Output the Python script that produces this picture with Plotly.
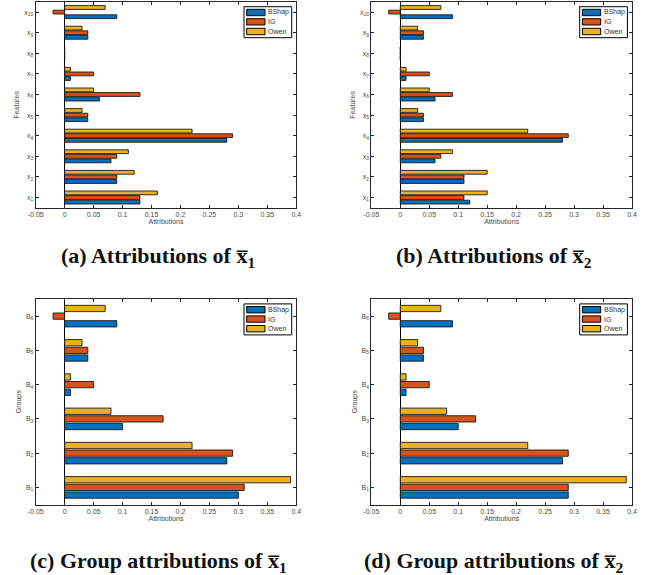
import plotly.graph_objects as go

# ---------------- data ----------------
feature_labels = ["x<sub>1</sub>", "x<sub>2</sub>", "x<sub>3</sub>", "x<sub>4</sub>", "x<sub>5</sub>",
                  "x<sub>6</sub>", "x<sub>7</sub>", "x<sub>8</sub>", "x<sub>9</sub>", "x<sub>10</sub>"]
group_labels = ["B<sub>1</sub>", "B<sub>2</sub>", "B<sub>3</sub>", "B<sub>4</sub>", "B<sub>5</sub>", "B<sub>6</sub>"]
series_names = ["BShap", "IG", "Owen"]

a_bshap = [0.13, 0.09, 0.08, 0.28, 0.04, 0.06, 0.01, 0.0, 0.04, 0.09]
a_ig    = [0.13, 0.09, 0.09, 0.29, 0.04, 0.13, 0.05, 0.0, 0.04, -0.02]
a_owen  = [0.16, 0.12, 0.11, 0.22, 0.03, 0.05, 0.01, 0.0, 0.03, 0.07]

b_bshap = [0.12, 0.11, 0.06, 0.28, 0.04, 0.06, 0.01, 0.0, 0.04, 0.09]
b_ig    = [0.11, 0.11, 0.07, 0.29, 0.04, 0.09, 0.05, 0.0, 0.04, -0.02]
b_owen  = [0.15, 0.15, 0.09, 0.22, 0.03, 0.05, 0.01, 0.0, 0.03, 0.07]

c_bshap = [0.30, 0.28, 0.10, 0.01, 0.04, 0.09]
c_ig    = [0.31, 0.29, 0.17, 0.05, 0.04, -0.02]
c_owen  = [0.39, 0.22, 0.08, 0.01, 0.03, 0.07]

d_bshap = [0.29, 0.28, 0.10, 0.01, 0.04, 0.09]
d_ig    = [0.29, 0.29, 0.13, 0.05, 0.04, -0.02]
d_owen  = [0.39, 0.22, 0.08, 0.01, 0.03, 0.07]

x_tick_vals = [-0.05, 0, 0.05, 0.1, 0.15, 0.2, 0.25, 0.3, 0.35, 0.4]
x_tick_text = ["-0.05", "0", "0.05", "0.1", "0.15", "0.2", "0.25", "0.3", "0.35", "0.4"]

captions = ["(a) Attributions of x\u0305<sub>1</sub>",
            "(b) Attributions of x\u0305<sub>2</sub>",
            "(c) Group attributions of x\u0305<sub>1</sub>",
            "(d) Group attributions of x\u0305<sub>2</sub>"]

# ---------------- style ----------------
colors = ["#0072BD", "#D95319", "#EDB120"]
W, H = 654, 575
TICKFONT = dict(family="Liberation Sans, Arial, sans-serif", size=7, color="#4a4a4a")
LEGFONT = dict(family="Liberation Sans, Arial, sans-serif", size=7, color="#333333")
AXCOL = "#262626"

# plot areas in pixels: (left, right, top, bottom)
panels = [
    dict(cats=feature_labels, vals=[a_bshap, a_ig, a_owen], ytitle="Features",
         box=(35.7, 296.3, 1.8, 207.8)),
    dict(cats=feature_labels, vals=[b_bshap, b_ig, b_owen], ytitle="Features",
         box=(371.3, 632.0, 1.8, 207.8)),
    dict(cats=group_labels, vals=[c_bshap, c_ig, c_owen], ytitle="Groups",
         box=(35.7, 296.3, 299.0, 504.5)),
    dict(cats=group_labels, vals=[d_bshap, d_ig, d_owen], ytitle="Groups",
         box=(371.3, 632.0, 299.0, 504.5)),
]
caption_pos = [(158, 257), (494, 257), (158, 562), (494, 562)]


def px_x(v):
    return v / W


def px_y(v):
    return 1 - v / H


fig = go.Figure()
layout = dict(width=W, height=H, margin=dict(l=0, r=0, t=0, b=0),
              paper_bgcolor="white", plot_bgcolor="white",
              barmode="group", bargap=0.33, bargroupgap=0.18,
              font=TICKFONT, showlegend=False)
shapes = []
annotations = []

for i, p in enumerate(panels):
    sfx = "" if i == 0 else str(i + 1)
    L, R, T, B = p["box"]
    n = len(p["cats"])
    positions = list(range(1, n + 1))
    for s, name in enumerate(series_names):
        fig.add_trace(go.Bar(
            y=positions, x=p["vals"][s], orientation="h", name=name,
            marker=dict(color=colors[s], line=dict(color="#1a1a1a", width=0.9)),
            xaxis="x" + sfx, yaxis="y" + sfx, showlegend=False,
        ))
    layout["xaxis" + sfx] = dict(
        domain=[px_x(L), px_x(R)], anchor="y" + sfx, range=[-0.05, 0.4], automargin=False,
        tickvals=x_tick_vals, ticktext=x_tick_text, ticks="inside", ticklen=3,
        tickcolor=AXCOL, showline=True, linecolor=AXCOL, linewidth=1, mirror="ticks",
        showgrid=False, zeroline=True, zerolinecolor="#000000", zerolinewidth=1,
        tickfont=TICKFONT, fixedrange=True,
        title=dict(text="Attributions", font=TICKFONT, standoff=1),
    )
    layout["yaxis" + sfx] = dict(
        domain=[px_y(B), px_y(T)], anchor="x" + sfx, range=[0.5, n + 0.5], automargin=False,
        tickvals=positions, ticktext=p["cats"], ticks="inside", ticklen=3,
        tickcolor=AXCOL, showline=True, linecolor=AXCOL, linewidth=1, mirror="ticks",
        showgrid=False, zeroline=False, tickfont=TICKFONT, fixedrange=True,
        title=dict(text=p["ytitle"], font=TICKFONT, standoff=3),
    )

    # legend box (MATLAB style, compact)
    shapes.append(dict(type="rect", xref="paper", yref="paper",
                       x0=px_x(R - 52.3), x1=px_x(R - 4.6), y0=px_y(T + 35.9), y1=px_y(T + 4.9),
                       line=dict(color="#000000", width=1), fillcolor="white", layer="above"))
    row_sym = [(7.5, 13.9), (16.9, 23.2), (26.5, 32.9)]
    for s, name in enumerate(series_names):
        y0, y1 = row_sym[s]
        shapes.append(dict(type="rect", xref="paper", yref="paper",
                           x0=px_x(R - 49.6), x1=px_x(R - 31.3), y0=px_y(T + y1), y1=px_y(T + y0),
                           line=dict(color="#000000", width=1), fillcolor=colors[s], layer="above"))
        annotations.append(dict(text=name, xref="paper", yref="paper",
                                x=px_x(R - 30.0), y=px_y(T + (y0 + y1) / 2),
                                xanchor="left", yanchor="middle", showarrow=False,
                                font=LEGFONT))

for (cx, cy), txt in zip(caption_pos, captions):
    annotations.append(dict(
        text="<b>" + txt + "</b>", x=px_x(cx), y=px_y(cy), xref="paper", yref="paper",
        xanchor="center", yanchor="middle", showarrow=False,
        font=dict(family="Liberation Serif, Times New Roman, serif", size=22, color="#111111"),
    ))

layout["shapes"] = shapes
layout["annotations"] = annotations
fig.update_layout(**layout)
fig.write_html("out.html", config={"displayModeBar": False, "staticPlot": False},
               post_script="document.body.style.margin='0px';document.body.style.overflow='hidden';")
